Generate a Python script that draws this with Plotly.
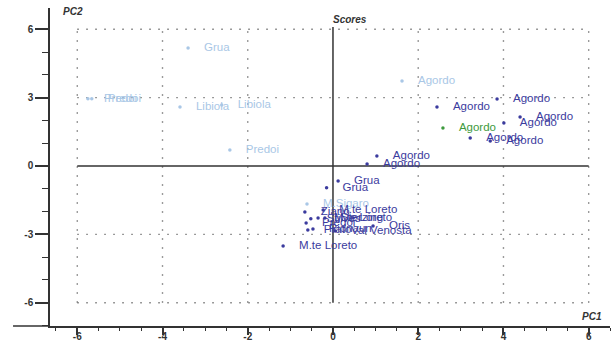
import plotly.graph_objects as go

# ---- data (PC1, PC2 scores) ----
light_x = [-3.40, -5.75, -5.66, -3.59, -2.61, -2.42, 1.62, -0.61]
light_y = [5.18, 2.95, 2.95, 2.59, 2.68, 0.70, 3.73, -1.67]
light_lab = ["Grua", "Predoi", "Predoi", "Libiola", "Libiola", "Predoi", "Agordo", "M.Sigaro"]

green_x = [2.58]
green_y = [1.67]
green_lab = ["Agordo"]

dark_x = [2.44, 3.85, 3.22, 3.69, 4.01, 4.39, 1.03, 0.80,
          -0.15, 0.12,
          -1.17, -0.59, -0.47, 0.05, 0.94, -0.19, -0.23, -0.35, -0.66, -0.52, -0.63]
dark_y = [2.59, 2.94, 1.23, 1.10, 1.89, 2.15, 0.44, 0.09,
          -0.96, -0.66,
          -3.51, -2.81, -2.76, -2.85, -2.63, -2.28, -1.93, -2.28, -2.02, -2.32, -2.50]
dark_lab = ["Agordo", "Agordo", "Agordo", "Agordo", "Agordo", "Agordo", "Agordo", "Agordo",
            "Grua", "Grua",
            "M.te Loreto", "Prato", "Ridnaun", "Val Venosta", "Oris", "Sterzing",
            "M.te Loreto", "M.te Loreto", "Ziano", "Stilves", "Predoi"]

x_ticks = [-6, -4, -2, 0, 2, 4, 6]
y_ticks = [-6, -3, 0, 3, 6]
grid_x = [-6, -4, -2, 2, 4, 6]
grid_y = [-6, -3, 3, 6]

PAD = "\u00a0" * 4

fig = go.Figure()

def add_group(xs, ys, labs, color):
    fig.add_trace(go.Scatter(
        x=xs, y=ys, mode="markers+text",
        text=[PAD + t for t in labs],
        textposition="middle right",
        textfont=dict(family="Liberation Sans, Arial", size=11.5, color=color),
        marker=dict(size=3.5, color=color),
        showlegend=False, cliponaxis=False,
    ))

add_group(light_x, light_y, light_lab, "#a9c7e6")
add_group(dark_x, dark_y, dark_lab, "#3b3b9e")
add_group(green_x, green_y, green_lab, "#3d9a3d")

shapes = []
for gx in grid_x:
    shapes.append(dict(type="line", xref="x", yref="y", x0=gx, x1=gx, y0=-6, y1=6,
                       line=dict(color="#7a7a7a", width=1.4, dash="1.5px,7.5px"), layer="below"))
for gy in grid_y:
    shapes.append(dict(type="line", xref="x", yref="y", x0=-6, x1=6, y0=gy, y1=gy,
                       line=dict(color="#7a7a7a", width=1.4, dash="1.5px,7.5px"), layer="below"))
# zero lines
shapes.append(dict(type="line", xref="x", yref="y", x0=0, x1=0, y0=-6, y1=6.1,
                   line=dict(color="#333333", width=1.5), layer="below"))
shapes.append(dict(type="line", xref="x", yref="y", x0=-6, x1=6, y0=0, y1=0,
                   line=dict(color="#333333", width=1.5), layer="below"))
# x-axis line continues left of the y axis
shapes.append(dict(type="line", xref="paper", yref="paper", x0=-0.066, x1=0, y0=0, y1=0,
                   line=dict(color="#333333", width=1.5)))

fig.update_layout(
    width=614, height=344,
    margin=dict(l=50, r=4, t=8, b=18, autoexpand=False),
    plot_bgcolor="white", paper_bgcolor="white",
    shapes=shapes,
    font=dict(family="Liberation Sans, Arial", color="#333333"),
    xaxis=dict(range=[-6.64, 6.5], tickvals=x_ticks, ticktext=["<b>%d</b>" % v for v in x_ticks],
               showgrid=False, zeroline=False, showline=True, linecolor="#333333", linewidth=1.5,
               ticks="outside", ticklen=7, tickwidth=1.5, tickcolor="#333333",
               ticklabelstandoff=-7,
               tickfont=dict(size=10, color="#333333"), automargin=False,
               minor=dict(dtick=0.5, tick0=0, ticks="outside", ticklen=3, tickwidth=1.2, tickcolor="#333333"),
               fixedrange=True),
    yaxis=dict(range=[-7.02, 6.93], tickvals=y_ticks, ticktext=["<b>%d</b>" % v for v in y_ticks],
               showgrid=False, zeroline=False, showline=True, linecolor="#333333", linewidth=1.5,
               ticks="outside", ticklen=13, tickwidth=1.5, tickcolor="#333333",
               tickfont=dict(size=10, color="#333333"), automargin=False,
               minor=dict(dtick=1, tick0=0, ticks="outside", ticklen=6, tickwidth=1.2, tickcolor="#333333"),
               fixedrange=True),
    annotations=[
        dict(text="<b><i>Scores</i></b>", xref="paper", yref="paper", x=0.535, y=0.965,
             xanchor="center", yanchor="middle", showarrow=False, font=dict(size=10, color="#333333")),
        dict(text="<b><i>PC2</i></b>", xref="paper", yref="paper", x=0.02, y=0.99,
             xanchor="left", yanchor="middle", showarrow=False, font=dict(size=10, color="#333333")),
        dict(text="<b><i>PC1</i></b>", xref="paper", yref="paper", x=0.99, y=0.03,
             xanchor="right", yanchor="middle", showarrow=False, font=dict(size=10, color="#333333")),
    ],
)

fig.write_html("out.html", config={"displayModeBar": False},
               post_script="document.body.style.margin='0';document.body.style.overflow='hidden';")
